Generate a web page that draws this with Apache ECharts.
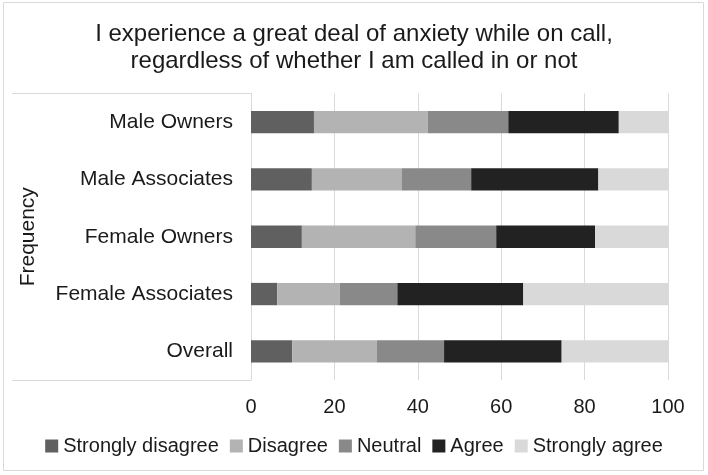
<!DOCTYPE html>
<html>
<head>
<meta charset="utf-8">
<script src="https://cdn.jsdelivr.net/npm/echarts@6/dist/echarts.min.js"></script>
<style>html,body{margin:0;padding:0;background:#fff;}#c{width:708px;height:475px;}</style>
</head>
<body>
<div id="c"></div>
<script>
var titleText = 'I experience a great deal of anxiety while on call,\nregardless of whether I am called in or not';
var categories = ['Male Owners', 'Male Associates', 'Female Owners', 'Female Associates', 'Overall'];
var seriesNames = ['Strongly disagree', 'Disagree', 'Neutral', 'Agree', 'Strongly agree'];
var stronglyDisagree = [15.1, 14.6, 12.2, 6.3, 9.9];
var disagree = [27.3, 21.5, 27.2, 15.0, 20.3];
var neutral = [19.3, 16.7, 19.4, 13.8, 16.1];
var agree = [26.5, 30.5, 23.7, 30.2, 28.2];
var stronglyAgree = [11.8, 16.7, 17.5, 34.7, 25.5];
var xTicks = [0, 20, 40, 60, 80, 100];

var colors = ['#606060', '#b3b3b3', '#898989', '#222222', '#d9d9d9'];
var values = [stronglyDisagree, disagree, neutral, agree, stronglyAgree];
var font = 'Liberation Sans, Arial, sans-serif';

var chart = echarts.init(document.getElementById('c'), null, {renderer: 'canvas'});
var series = seriesNames.map(function (n, i) {
  return {
    name: n, type: 'bar', stack: 'all', data: values[i],
    itemStyle: {color: colors[i]}, barCategoryGap: '61%',
    emphasis: {disabled: true}
  };
});
chart.setOption({
  animation: false,
  textStyle: {fontFamily: font},
  title: {
    text: titleText, left: 'center', top: 16,
    textStyle: {fontFamily: font, fontSize: 24, fontWeight: 'normal', color: '#1a1a1a', lineHeight: 27}
  },
  legend: {
    data: seriesNames, bottom: 14, left: 'center',
    itemWidth: 13, itemHeight: 13, itemGap: 11, icon: 'rect',
    textStyle: {fontFamily: font, fontSize: 20, color: '#1a1a1a'}
  },
  grid: {left: 251, right: 40, top: 93.5, bottom: 95, containLabel: false},
  xAxis: {
    type: 'value', min: 0, max: 100, interval: 20,
    axisLine: {show: false}, axisTick: {show: false},
    splitLine: {show: true, lineStyle: {color: '#d9d9d9', width: 1}},
    axisLabel: {fontFamily: font, fontSize: 20, color: '#1a1a1a', margin: 17,
      formatter: function (v) { return xTicks.indexOf(v) >= 0 ? String(v) : ''; }}
  },
  yAxis: {
    type: 'category', data: categories, inverse: true,
    name: 'Frequency', nameLocation: 'middle', nameRotate: 90, nameGap: 212,
    nameTextStyle: {fontFamily: font, fontSize: 21, color: '#1a1a1a'},
    axisLine: {show: true, lineStyle: {color: '#d9d9d9'}}, axisTick: {show: false},
    axisLabel: {fontFamily: font, fontSize: 21, color: '#1a1a1a', margin: 18}
  },
  graphic: [
    {type: 'rect', shape: {x: 3.5, y: 2.5, width: 700, height: 468}, style: {fill: 'none', stroke: '#d9d9d9', lineWidth: 1}, silent: true},
    {type: 'line', shape: {x1: 12, y1: 93.5, x2: 251, y2: 93.5}, style: {stroke: '#d9d9d9', lineWidth: 1}, silent: true},
    {type: 'line', shape: {x1: 12, y1: 380.5, x2: 251, y2: 380.5}, style: {stroke: '#d9d9d9', lineWidth: 1}, silent: true}
  ],
  series: series
});
</script>
</body>
</html>
